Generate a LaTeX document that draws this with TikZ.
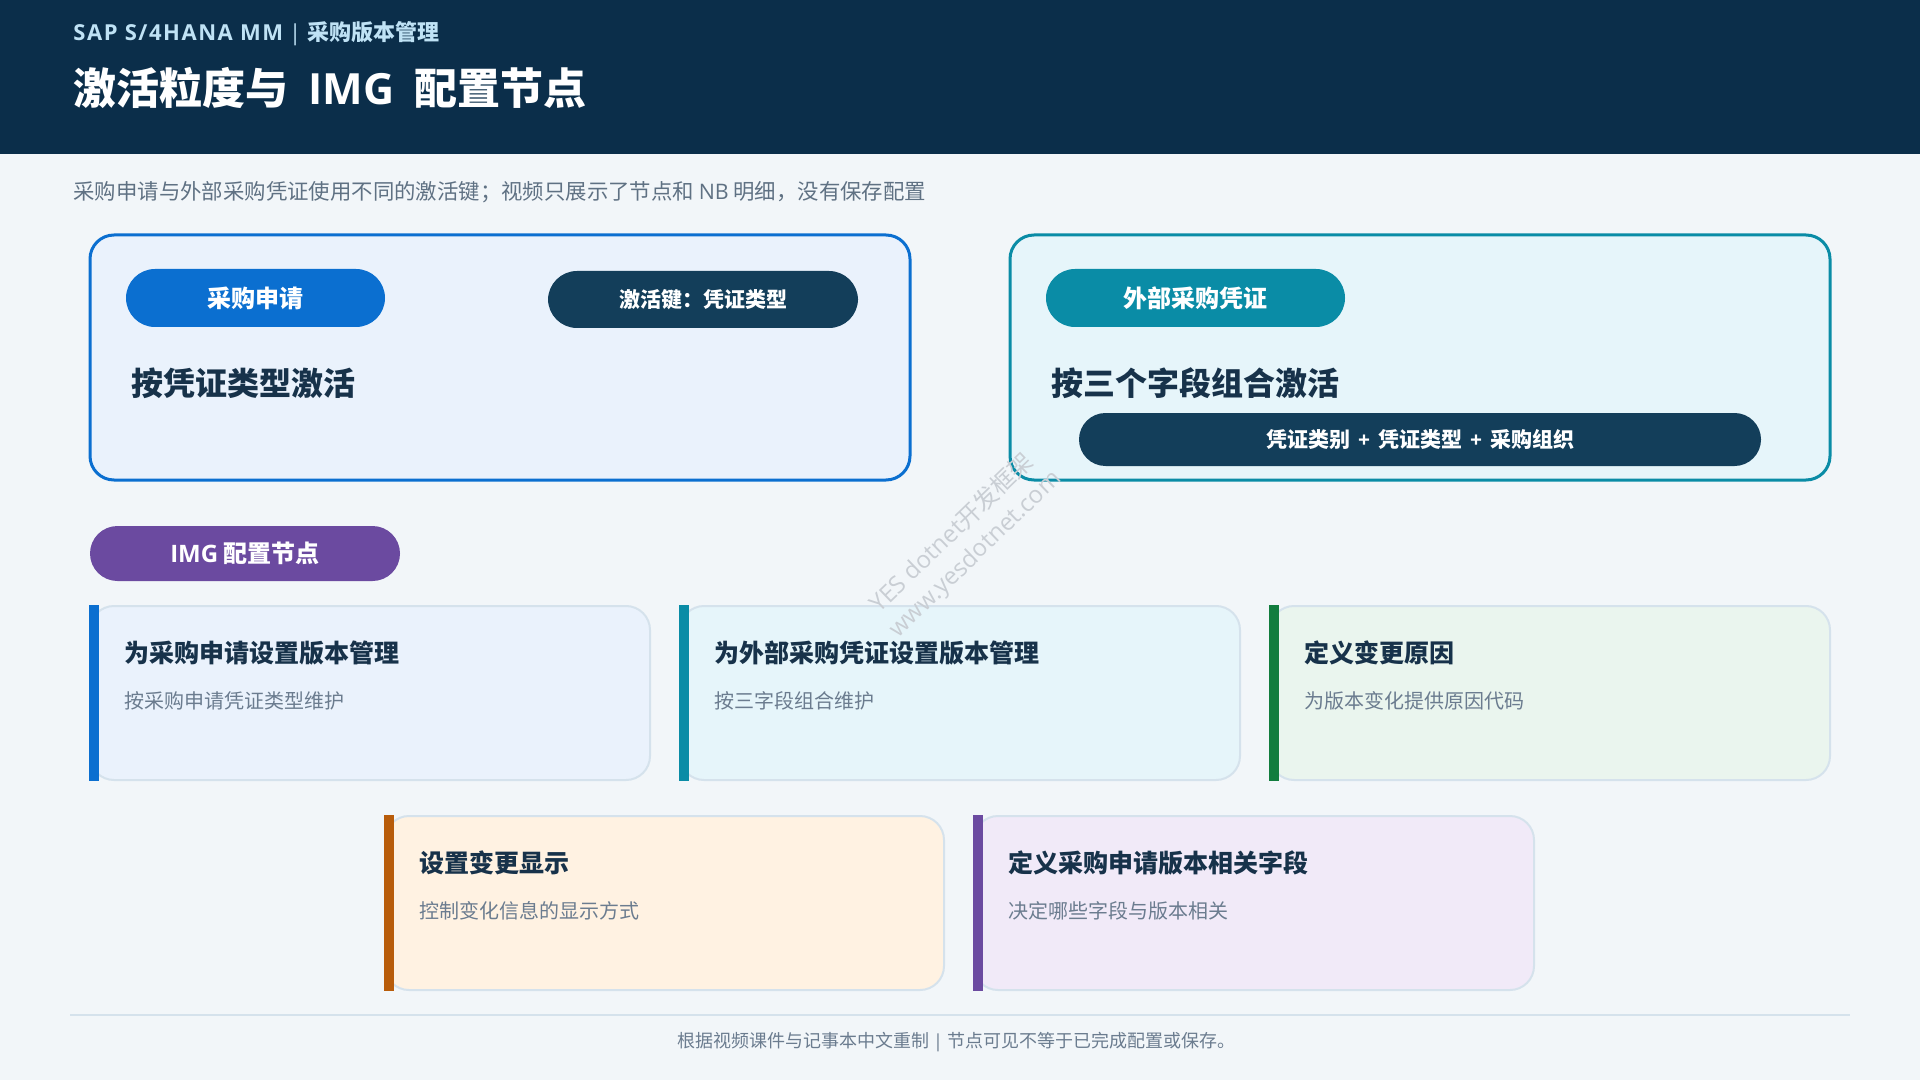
\documentclass[tikz,border=0pt]{standalone}
\usepackage{fontspec}
\setmainfont{Noto Sans CJK SC}
\newfontfamily\lat{Open Sans}
\newfontfamily\latw{Open Sans}[LetterSpace=7]
\definecolor{bg}{HTML}{F2F6F9}
\definecolor{hdr}{HTML}{0B2E4A}
\definecolor{subhdr}{HTML}{BFE2F5}
\definecolor{desc}{HTML}{5F7183}
\definecolor{ink}{HTML}{17324A}
\definecolor{gray}{HTML}{6B7C8F}
\definecolor{cblue}{HTML}{0B6FD0}
\definecolor{fblue}{HTML}{EAF2FC}
\definecolor{cteal}{HTML}{0A8CA6}
\definecolor{fteal}{HTML}{E6F5FA}
\definecolor{cnavy}{HTML}{133E5A}
\definecolor{cpurple}{HTML}{6B4AA0}
\definecolor{fpurple}{HTML}{F1EAF8}
\definecolor{cgreen}{HTML}{127D3E}
\definecolor{fgreen}{HTML}{EAF5EE}
\definecolor{corange}{HTML}{B85C0A}
\definecolor{forange}{HTML}{FFF2E2}
\definecolor{cardline}{HTML}{D5E2EC}
\definecolor{wmark}{HTML}{C9CED4}
\tikzset{
  txt/.style={inner sep=0pt, anchor=west},
  pillbox/.style={inner sep=0pt, text=white, minimum height=29pt, rounded corners=14.5pt,
    font=\bfseries\fontsize{12pt}{14pt}\selectfont},
  bigbox/.style={line width=1.5pt, rounded corners=12pt, minimum width=410pt, minimum height=122.5pt, inner sep=0pt},
  card/.style={draw=cardline, line width=1pt, rounded corners=12pt, minimum width=280pt, minimum height=87pt, inner sep=0pt},
  cardtitle/.style={txt, text=ink, font=\bfseries\fontsize{12.5pt}{15pt}\selectfont},
  cardsub/.style={txt, text=gray, font=\fontsize{10pt}{12pt}\selectfont},
  heading/.style={txt, text=ink, font=\bfseries\fontsize{16pt}{19pt}\selectfont},
  wm/.style={inner sep=0pt, rotate=44, text=wmark, font=\fontsize{12pt}{14pt}\selectfont}
}
\begin{document}
\begin{tikzpicture}[x=0.5pt,y=-0.5pt]
\useasboundingbox (0,0) rectangle (1920,1080);
\fill[bg] (0,0) rectangle (1920,1080);
\fill[hdr] (0,0) rectangle (1920,154);
\node[txt, text=subhdr, font=\bfseries\fontsize{11pt}{13pt}\selectfont] (sub) at (73,34) {{\latw SAP S/4HANA MM}\hspace{3pt}{\lat\mdseries |}\hspace{3pt}采购版本管理};
\node[txt, text=white, font=\bfseries\fontsize{21.5pt}{25pt}\selectfont] (title) at (73,88) {激活粒度与\hspace{10pt}{\lat IMG}\hspace{10pt}配置节点};
\node[txt, text=desc, font=\fontsize{10.7pt}{12pt}\selectfont] (desc) at (73,192) {采购申请与外部采购凭证使用不同的激活键；视频只展示了节点和 {\lat NB} 明细，没有保存配置};

% big boxes
\node[bigbox, draw=cblue, fill=fblue] (box1) at (500,357.5) {};
\node[bigbox, draw=cteal, fill=fteal] (box2) at (1420,357.5) {};

\node[pillbox, fill=cblue, minimum width=129.5pt] (p1) at (255.5,298) {采购申请};
\node[pillbox, fill=cnavy, minimum width=155pt, minimum height=28.5pt, font=\bfseries\fontsize{10.5pt}{12pt}\selectfont] (p2) at (703,299.5) {激活键：凭证类型};
\node[heading] (h1) at (131,383) {按凭证类型激活};

\node[pillbox, fill=cteal, minimum width=149.5pt] (p3) at (1195.5,298) {外部采购凭证};
\node[heading] (h2) at (1051,383) {按三个字段组合激活};
\node[pillbox, fill=cnavy, minimum width=341pt, minimum height=26.5pt, rounded corners=13.25pt, font=\bfseries\fontsize{10.5pt}{12pt}\selectfont] (p4) at (1420,439.5) {凭证类别\hspace{4pt}{\lat +}\hspace{4pt}凭证类型\hspace{4pt}{\lat +}\hspace{4pt}采购组织};

\node[pillbox, fill=cpurple, minimum width=155pt, minimum height=27.5pt, rounded corners=13.75pt] (p5) at (245,553.5) {{\lat IMG} 配置节点};

% cards row 1
\node[card, fill=fblue] (c1) at (370,693) {};
\fill[cblue] (c1.north west) rectangle ([xshift=5pt]c1.south west);
\node[cardtitle] (c1t) at (124,653) {为采购申请设置版本管理};
\node[cardsub] (c1s) at (124,701) {按采购申请凭证类型维护};

\node[card, fill=fteal] (c2) at (960,693) {};
\fill[cteal] (c2.north west) rectangle ([xshift=5pt]c2.south west);
\node[cardtitle] (c2t) at (714,653) {为外部采购凭证设置版本管理};
\node[cardsub] (c2s) at (714,701) {按三字段组合维护};

\node[card, fill=fgreen] (c3) at (1550,693) {};
\fill[cgreen] (c3.north west) rectangle ([xshift=5pt]c3.south west);
\node[cardtitle] (c3t) at (1304,653) {定义变更原因};
\node[cardsub] (c3s) at (1304,701) {为版本变化提供原因代码};

% cards row 2
\node[card, fill=forange, minimum width=279.5pt] (c4) at (664.5,903) {};
\fill[corange] (c4.north west) rectangle ([xshift=5pt]c4.south west);
\node[cardtitle] (c4t) at (419,863) {设置变更显示};
\node[cardsub] (c4s) at (419,911) {控制变化信息的显示方式};

\node[card, fill=fpurple] (c5) at (1254,903) {};
\fill[cpurple] (c5.north west) rectangle ([xshift=5pt]c5.south west);
\node[cardtitle] (c5t) at (1008,863) {定义采购申请版本相关字段};
\node[cardsub] (c5s) at (1008,911) {决定哪些字段与版本相关};

% footer
\coordinate (fl) at (70,1015);
\coordinate (fr) at (1850,1015);
\draw[cardline, line width=1pt] (fl) -- (fr);
\node[inner sep=0pt, text=gray, font=\fontsize{9pt}{11pt}\selectfont] (foot) at (956,1042) {根据视频课件与记事本中文重制 {\lat |} 节点可见不等于已完成配置或保存。};

% watermark (on top)
\node[wm] (wm1) at (951,532) {{\lat YES dotnet}开发框架};
\node[wm] (wm2) at (976,555) {{\lat www.yesdotnet.com}};
\end{tikzpicture}
\end{document}
